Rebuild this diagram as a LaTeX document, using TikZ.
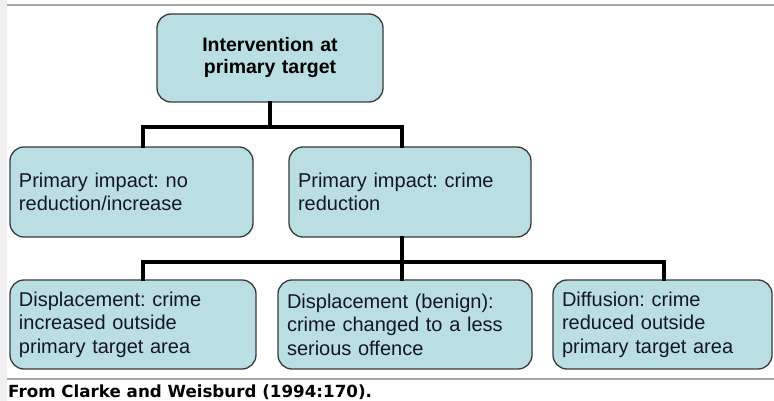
\documentclass[tikz,border=0pt]{standalone}
\usepackage{fontspec}
\setmainfont{Liberation Sans}
\newfontfamily\capfont{DejaVu Sans}
\frenchspacing
\definecolor{boxfill}{HTML}{B9DFE3}
\definecolor{boxline}{HTML}{3A3A3A}
\definecolor{rulegray}{HTML}{A8A8A8}
\definecolor{stripgray}{HTML}{F0F0F0}
\definecolor{txt}{HTML}{15152A}
\tikzset{
  box/.style={draw=boxline, line width=1.3pt, fill=boxfill, rounded corners=14pt,
    inner xsep=9pt, inner ysep=0pt, align=left, text=txt,
    font=\fontsize{20}{23.5}\selectfont},
  topbox/.style={box, align=center, font=\fontsize{19.5}{22}\selectfont\bfseries, text=black},
  conn/.style={draw=black, line width=4pt, line join=miter, line cap=rect},
}
\begin{document}
\frenchspacing
\begin{tikzpicture}[x=1pt,y=-1pt]
\useasboundingbox (0,0) rectangle (774,401);
\fill[white] (0,0) rectangle (774,401);
\fill[stripgray] (0,0) rectangle (7,401);
\draw[rulegray, line width=1.6pt] (7,5) -- (774,5);
\draw[rulegray, line width=1.6pt] (7,379) -- (774,379);

\node[topbox, text width=208pt, minimum height=88pt] (top) at (270,58) {Intervention at\\primary target};

\node[box, text width=225pt, minimum height=90pt] (l2a) at (131.5,192) {Primary impact: no\\reduction/increase};
\node[box, text width=224pt, minimum height=90pt] (l2b) at (410,192) {Primary impact: crime\\reduction};

\node[box, text width=228pt, minimum height=89pt] (l3a) at (133,324.5) {Displacement: crime\\increased outside\\primary target area};
\node[box, text width=236pt, minimum height=89pt] (l3b) at (405,324.5) {Displacement (benign):\\crime changed to a less\\serious offence};
\node[box, text width=201pt, minimum height=89pt] (l3c) at (662.5,324.5) {Diffusion: crime\\reduced outside\\primary target area};

\coordinate (j1) at (270,127);
\coordinate (j2) at (402,262);

\draw[conn] (top.south) -- (j1);
\draw[conn] ([xshift=11.5pt]l2a.north) |- (j1) -| ([xshift=-8pt]l2b.north);
\draw[conn] ([xshift=-8pt]l2b.south) -- ([xshift=-3pt]l3b.north);
\draw[conn] ([xshift=10pt]l3a.north) |- (j2) -| ([xshift=1.5pt]l3c.north);

\node[anchor=base west, inner sep=0pt, font=\capfont\bfseries\fontsize{16.7}{18}\selectfont] (cap) at (8,397) {From Clarke and Weisburd (1994:170).};
\end{tikzpicture}
\end{document}
